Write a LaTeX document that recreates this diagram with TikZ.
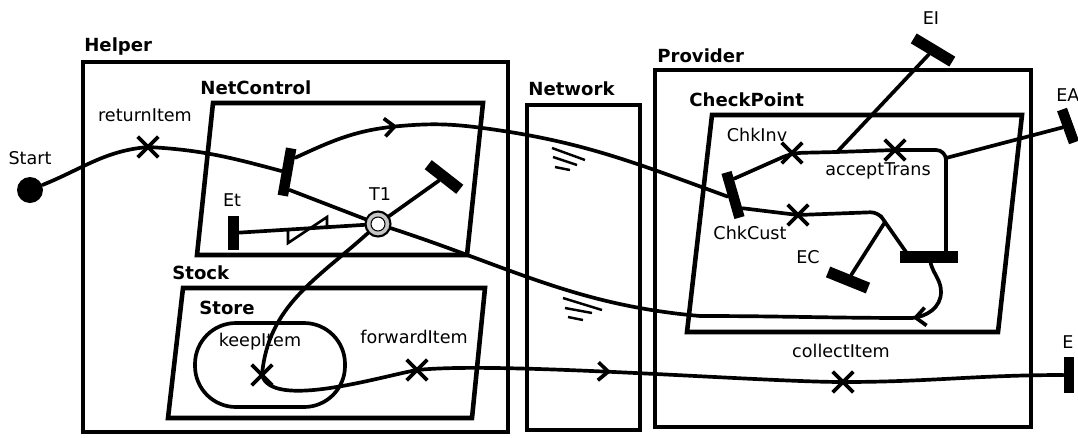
\documentclass[tikz,border=0pt]{standalone}
\usepackage{fontspec}
\setmainfont{DejaVu Sans}
\usetikzlibrary{arrows.meta,shapes.misc,decorations.markings}

\tikzset{
	compbox/.style={line width=2.6pt},
	ucm/.style={line width=2.1pt, line cap=round, line join=round},
	resp/.style={cross out, draw, line width=2.1pt, minimum size=0.34cm, inner sep=0pt},
	barnode/.style={fill=black, inner sep=0pt, minimum width=0.21cm, minimum height=#1},
	hbarnode/.style={fill=black, inner sep=0pt, minimum height=0.23cm, minimum width=#1},
	lbl/.style={inner sep=0pt, font=\fontsize{10}{12}\selectfont},
	comptitle/.style={inner sep=0pt, anchor=west, font=\fontsize{10.3}{12}\selectfont\bfseries},
	timer/.style={circle, draw, line width=1.2pt, fill=gray!45, minimum size=0.5cm, inner sep=0pt,
		path picture={\draw[fill=white, line width=0.6pt] (path picture bounding box.center) circle (0.14cm);}},
	arrowat/.style={postaction={decorate}, decoration={markings,
		mark=at position #1 with {\arrow{Straight Barb[length=0.2cm,width=0.36cm]}}}}
}

\begin{document}
\begin{tikzpicture}[x=0.02cm, y=-0.02cm]
	\useasboundingbox (0,0) rectangle (1078,437);

	% components
	\draw[compbox] (83,62) rectangle (508,432);
	\draw[compbox] (213,103) -- (483,103) -- (467,255) -- (197,255) -- cycle;
	\draw[compbox] (183,288) -- (485,288) -- (472,418) -- (168,418) -- cycle;
	\draw[compbox] (527,105) rectangle (640,430);
	\draw[compbox] (655,70) rectangle (1031,427);
	\draw[compbox] (712,115) -- (1022,115) -- (998,332) -- (687,332) -- cycle;
	\node[comptitle] (tHelper) at (84,47) {Helper};
	\node[comptitle] (tNetControl) at (200,88) {NetControl};
	\node[comptitle] (tStock) at (172,273) {Stock};
	\node[comptitle] (tStore) at (199,308) {Store};
	\node[comptitle] (tNetwork) at (528,89) {Network};
	\node[comptitle] (tProvider) at (657,56) {Provider};
	\node[comptitle] (tCheckPoint) at (689,100) {CheckPoint};

	% network delays
	\draw[line width=1.4pt] (552,148) -- (585,160) (553,157) -- (577,165) (555,167) -- (570,170);
	\draw[line width=1.4pt] (563,298) -- (602,310) (565,308) -- (592,313) (568,317) -- (583,320);

	% start, responsibilities, bars
	\node[circle, fill=black, minimum size=0.52cm, inner sep=0pt] (start) at (30,190) {};
	\node[lbl] (lStart) at (30,158) {Start};
	\node[resp] (ret) at (148,147) {};
	\node[lbl] (lret) at (145,115) {returnItem};
	\node[barnode=0.96cm, rotate=-10] (fork) at (287,172) {};
	\node[barnode=0.68cm, minimum width=0.22cm] (et) at (233,233) {};
	\node[lbl] (let) at (232,200) {Et};
	\node[timer] (t1) at (378,224) {};
	\node[lbl] (lt1) at (380,194) {T1};
	\node[hbarnode=0.8cm, rotate=-38] (endT) at (444,177) {};
	\node[resp] (keep) at (262,375) {};
	\node[lbl] (lkeep) at (260,342) {keepItem};
	\node[resp] (forward) at (417,370) {};
	\node[lbl] (lforward) at (414,337) {forwardItem};
	\node[resp] (collect) at (843,382) {};
	\node[lbl] (lcollect) at (841,351) {collectItem};
	\node[barnode=0.72cm] (ebar) at (1069,375) {};
	\node[lbl] (le) at (1068,342) {E};
	\node[barnode=0.94cm, rotate=16] (chkcust) at (733,195) {};
	\node[lbl] (lchkcust) at (750,233) {ChkCust};
	\node[resp] (chkinv) at (792,153) {};
	\node[lbl] (lchkinv) at (757,135) {ChkInv};
	\node[resp] (acc) at (895,150) {};
	\node[lbl] (lacc) at (878,171) {acceptTrans};
	\node[resp] (cust) at (798,215) {};
	\node[hbarnode=0.9cm, rotate=-31] (ei) at (933,50) {};
	\node[lbl] (lei) at (931,18) {EI};
	\node[barnode=0.7cm, rotate=20] (ea) at (1068,126) {};
	\node[lbl, anchor=west] (lea) at (1056,95) {EA};
	\node[hbarnode=0.86cm, rotate=-22] (ec) at (848,280) {};
	\node[lbl] (lec) at (808,257) {EC};
	\node[hbarnode=1.16cm] (join) at (929,257) {};
	\coordinate (brI) at (837,152);
	\coordinate (brA) at (946,158);
	\coordinate (jR) at (946,252);
	\coordinate (bend) at (878,212);
	\coordinate (brC) at (885,222);
	\coordinate (jL) at (906,252);

	% paths
	\draw[ucm] (start) to[out=22,in=185] (ret.center) to[out=-3,in=165] (fork.west);
	\draw[ucm, arrowat=0.24] (fork.70) to[out=25,in=185] (400,126) to[out=5,in=172] (490,129) to[out=-8,in=160] (chkcust.west);
	\draw[ucm] (fork.-72) -- (t1);
	\draw[ucm] (et) -- (t1);
	\draw[line width=1.5pt] (288,229) -- (288,243) -- (327,217) -- (327,229);
	\draw[ucm] (endT) -- (t1) to[out=222,in=85] (keep.center) to[out=-75,in=190,looseness=0.6] (forward.center);
	\draw[ucm] (195,323) [rounded corners=0.82cm] rectangle (345,407);
	\draw[ucm, arrowat=0.3] (forward.center) to[out=6,in=180,looseness=0.5] (collect.center) to[out=0,in=180] (ebar);
	\draw[ucm, arrowat=0.12] (join) to[out=-75,in=90] (941,292) to[out=-90,in=5] (912,318) to[out=180,in=0] (700,316) to[out=175,in=-18] (t1);
	\draw[ucm, rounded corners=0.2cm] (chkcust.70) -- (chkinv.center) -- (brI) -- (acc.center) -| (jR);
	\draw[ucm] (brI) -- (ei);
	\draw[ucm] (brA) -- (ea);
	\draw[ucm, rounded corners=0.15cm] (chkcust.-70) -- (cust.center) -- (bend) -- (brC) -- (jL);
	\draw[ucm] (brC) -- (ec);
\end{tikzpicture}
\end{document}
